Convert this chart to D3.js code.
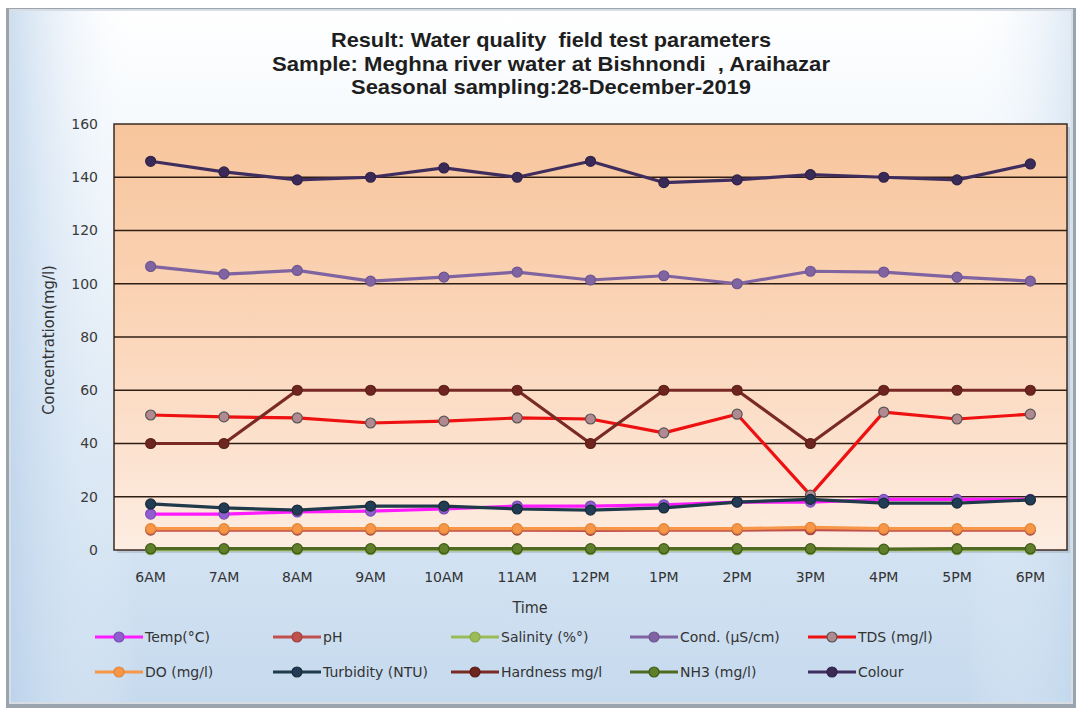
<!DOCTYPE html>
<html><head><meta charset="utf-8">
<script src="https://cdn.jsdelivr.net/npm/d3@7"></script>
<style>
html,body{margin:0;padding:0;background:#fff;}
svg{display:block;font-family:"Liberation Sans",Arial,sans-serif;}
</style></head>
<body>
<svg id="c" width="1081" height="713"></svg>
<script>
const categories = ["6AM","7AM","8AM","9AM","10AM","11AM","12PM","1PM","2PM","3PM","4PM","5PM","6PM"];
const yTicks = [0,20,40,60,80,100,120,140,160];
const seriesNames = ["Temp(°C)","pH","Salinity (%°)","Cond. (µS/cm)","TDS (mg/l)","DO (mg/l)","Turbidity (NTU)","Hardness mg/l","NH3 (mg/l)","Colour"];
const temp      = [13.5,13.5,14.3,14.6,15.4,16.5,16.5,17,18,18,19,19,19];
const pH        = [7.5,7.5,7.5,7.5,7.5,7.5,7.4,7.5,7.5,7.6,7.5,7.5,7.5];
const salinity  = [0.1,0.1,0.1,0.1,0.1,0.1,0.1,0.1,0.1,0.1,0.1,0.1,0.1];
const cond      = [106.5,103.6,105,101,102.5,104.4,101.4,103,100,104.7,104.4,102.5,101];
const tds       = [50.7,50,49.6,47.7,48.4,49.6,49.2,44,51,20.6,51.8,49.2,51];
const dO        = [8,8,8,8,8,8,8,8,8,8.5,8,8,8];
const turbidity = [17.3,15.8,15,16.5,16.5,15.4,15,15.8,18,19,17.6,17.6,18.8];
const hardness  = [40,40,60,60,60,60,40,60,60,40,60,60,60];
const nh3       = [0.5,0.5,0.5,0.5,0.5,0.5,0.5,0.5,0.5,0.5,0.3,0.5,0.5];
const colour    = [146,142,139,140,143.5,140,146,138,139,141,140,139,145];
const seriesValues = [temp,pH,salinity,cond,tds,dO,turbidity,hardness,nh3,colour];
const lineColors   = ["#ff1aff","#c0504d","#9bbb59","#8064a2","#ee1111","#f79646","#1f3a4a","#7a2a24","#4f6a22","#3f2d5e"];
const markerFills  = ["#8f5fd0","#c0504d","#9bbb59","#8064a2","#b08a90","#f79646","#233c55","#6e2520","#5f7f2a","#3a2a58"];
const markerStroke = ["#7a4ab8","#a0403d","#8aa84d","#6e5590","#555555","#e08536","#182a36","#5a1e19","#3f5a1a","#2e2248"];

const svg = d3.select("#c");
const defs = svg.append("defs");
const bg = defs.append("linearGradient").attr("id","bg").attr("x1","0").attr("y1","0").attr("x2","0").attr("y2","1");
bg.append("stop").attr("offset","0").attr("stop-color","#ffffff");
bg.append("stop").attr("offset","0.25").attr("stop-color","#f0f6fb");
bg.append("stop").attr("offset","1").attr("stop-color","#c6daee");
const bgh = defs.append("linearGradient").attr("id","bgh").attr("x1","0").attr("y1","0").attr("x2","1").attr("y2","0");
bgh.append("stop").attr("offset","0").attr("stop-color","#b8d0ea").attr("stop-opacity","0.7");
bgh.append("stop").attr("offset","0.12").attr("stop-color","#ffffff").attr("stop-opacity","0");
bgh.append("stop").attr("offset","0.9").attr("stop-color","#ffffff").attr("stop-opacity","0");
bgh.append("stop").attr("offset","1").attr("stop-color","#c0d6ec").attr("stop-opacity","0.5");
const pg = defs.append("linearGradient").attr("id","pg").attr("x1","0").attr("y1","0").attr("x2","0").attr("y2","1");
pg.append("stop").attr("offset","0").attr("stop-color","#f7c59c");
pg.append("stop").attr("offset","0.5").attr("stop-color","#fbd6ba");
pg.append("stop").attr("offset","1").attr("stop-color","#fdede2");

// outer frame
svg.append("rect").attr("x",0).attr("y",0).attr("width",1081).attr("height",713).attr("fill","#ffffff");
svg.append("rect").attr("x",6).attr("y",8).attr("width",1070).attr("height",700).attr("fill","#9aa4ae");
svg.append("rect").attr("x",10).attr("y",10).attr("width",1062).attr("height",693).attr("fill","url(#bg)");
svg.append("rect").attr("x",10).attr("y",10).attr("width",1062).attr("height",693).attr("fill","url(#bgh)");
svg.append("rect").attr("x",10).attr("y",10).attr("width",1062).attr("height",693).attr("fill","none").attr("stroke","#d8dde3").attr("stroke-width",2);

const L=114, R=1067, T=124, B=550;
const x = d3.scaleBand().domain(categories).range([L,R]);
const y = d3.scaleLinear().domain([0,160]).range([B,T]);

// plot area
svg.append("rect").attr("x",L+3).attr("y",T+3).attr("width",R-L).attr("height",B-T).attr("fill","#aab4c0").attr("opacity",0.6);
svg.append("rect").attr("x",L).attr("y",T).attr("width",R-L).attr("height",B-T).attr("fill","url(#pg)").attr("stroke","#3a2a22").attr("stroke-width",1.5);

// gridlines
svg.append("g").selectAll("line").data(yTicks.filter(d=>d>0&&d<160)).join("line")
  .attr("x1",L).attr("x2",R).attr("y1",d=>y(d)).attr("y2",d=>y(d))
  .attr("stroke","#2e1e14").attr("stroke-width",1.5);

const lblFont = "'DejaVu Sans',sans-serif";
const condFont = "'DejaVu Sans Condensed','DejaVu Sans',sans-serif";
// y axis
const yAxis = svg.append("g").attr("transform",`translate(${L},0)`)
  .call(d3.axisLeft(y).tickValues(yTicks).tickSize(0).tickPadding(16));
yAxis.select(".domain").remove();
yAxis.selectAll("text").attr("fill","#3a3a3a").attr("font-family",lblFont).attr("font-size",14);

// x axis
const xAxis = svg.append("g").attr("transform",`translate(0,${B})`)
  .call(d3.axisBottom(x).tickSize(0).tickPadding(22));
xAxis.select(".domain").remove();
xAxis.selectAll("text").attr("fill","#333").attr("font-family",lblFont).attr("font-size",14);

// axis titles
svg.append("text").attr("transform","translate(54,340) rotate(-90)").attr("text-anchor","middle")
  .attr("font-family",condFont).attr("font-size",16.5).attr("fill","#333").text("Concentration(mg/l)");
svg.append("text").attr("x",530).attr("y",613).attr("text-anchor","middle")
  .attr("font-family",condFont).attr("font-size",16).attr("fill","#333").text("Time");

// title
const titles = ["Result: Water quality  field test parameters","Sample: Meghna river water at Bishnondi  , Araihazar","Seasonal sampling:28-December-2019"];
const titleW = [440,558,400];
svg.append("g").selectAll("text").data(titles).join("text")
  .attr("x",551).attr("y",(d,i)=>47+i*23.5).attr("text-anchor","middle")
  .attr("font-size",21).attr("font-weight","bold").attr("fill","#1e1e1e")
  .attr("textLength",(d,i)=>titleW[i]).attr("lengthAdjust","spacingAndGlyphs")
  .attr("xml:space","preserve").style("white-space","pre").text(d=>d);

// series
const line = d3.line().x((d,i)=>x(categories[i])+x.bandwidth()/2).y(d=>y(d));
const gS = svg.append("g");
seriesValues.forEach((vals,k)=>{
  const g = gS.append("g");
  g.append("path").datum(vals).attr("d",line).attr("fill","none")
    .attr("stroke",lineColors[k]).attr("stroke-width",3.2).attr("stroke-linejoin","round");
  g.selectAll("circle").data(vals).join("circle")
    .attr("cx",(d,i)=>x(categories[i])+x.bandwidth()/2).attr("cy",d=>y(d)).attr("r",5)
    .attr("fill",markerFills[k]).attr("stroke",markerStroke[k]).attr("stroke-width",1.2);
});

// legend
const legX = [95,273,451,630,808];
const legY = [637,672];
const lg = svg.append("g");
seriesNames.forEach((name,k)=>{
  const cx = legX[k%5], cy = legY[Math.floor(k/5)];
  const g = lg.append("g").attr("transform",`translate(${cx},${cy})`);
  g.append("line").attr("x1",0).attr("x2",48).attr("y1",0).attr("y2",0).attr("stroke",lineColors[k]).attr("stroke-width",3.2);
  g.append("circle").attr("cx",24).attr("cy",0).attr("r",5).attr("fill",markerFills[k]).attr("stroke",markerStroke[k]).attr("stroke-width",1.2);
  g.append("text").attr("x",50).attr("y",5).attr("font-family",lblFont)
    .attr("font-size",14).attr("fill","#333").text(name);
});
</script>
</body></html>
